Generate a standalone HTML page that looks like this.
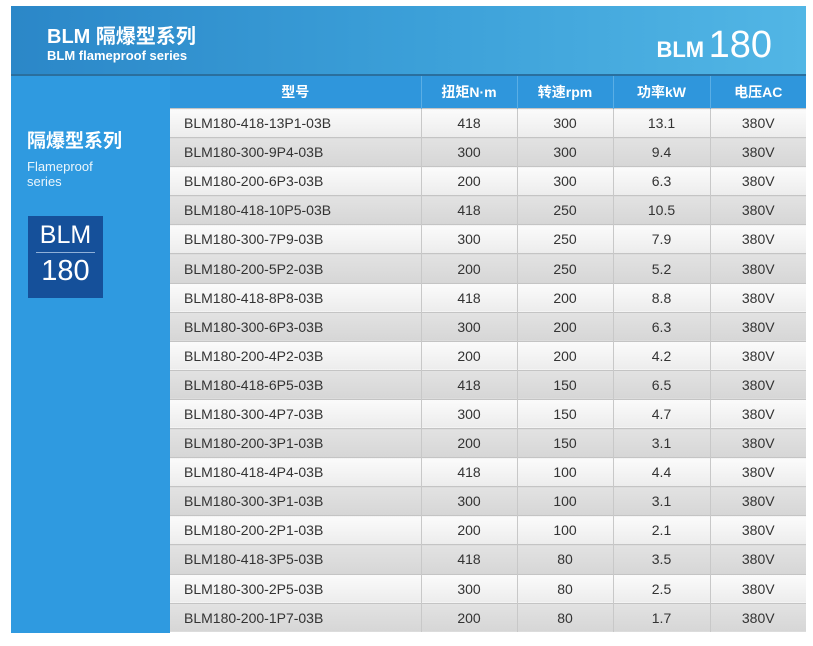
<!DOCTYPE html>
<html><head><meta charset="utf-8"><style>
body{margin:0;width:813px;height:646px;background:#fff;position:relative;font-family:"Liberation Sans","Noto Sans CJK SC",sans-serif;overflow:hidden}
#hdr{position:absolute;left:11px;top:6px;width:795px;height:68px;background:linear-gradient(90deg,#2b87c8,#3b9fd8 50%,#52b6e5);border-bottom:2px solid #2a6f9e}
#left{position:absolute;left:11px;top:76px;width:159px;height:557px;background:#2f9ae0}
#tbl{position:absolute;left:170px;top:76px;width:636px;border-collapse:collapse;table-layout:fixed}
#tbl th{height:32px;background:#2f96dc;color:#fff;font-weight:bold;font-size:14px;border-left:1px solid #5aaee5;padding:0}
#tbl td{height:28.1px;padding:0;text-align:center;font-size:14px;color:#333;border-left:1px solid #c8c8c8;border-top:1px solid #c4c4c4}
#tbl td:first-child{text-align:left;padding-left:14px;border-left:none}
#tbl tr.o td{background:linear-gradient(180deg,#fbfbfb,#ececec)}
#tbl tr.e td{background:linear-gradient(180deg,#e2e2e2,#d6d6d6)}
</style></head><body>
<div id="hdr">
<div style="position:absolute;left:36px;top:14px;color:#fff;font-size:20px;font-weight:bold">BLM 隔爆型系列</div>
<div style="position:absolute;left:36px;top:42px;color:#fff;font-size:13px;font-weight:bold">BLM flameproof series</div>
<div style="position:absolute;right:34px;top:18px;color:#fff;white-space:nowrap"><span style="font-size:22px;font-weight:bold">BLM</span> <span style="font-size:38px">180</span></div>
</div>
<div id="left">
<div style="position:absolute;left:16px;top:50px;color:#fff;font-size:19px;font-weight:bold">隔爆型系列</div>
<div style="position:absolute;left:16px;top:83px;color:#fff;font-size:13px;line-height:15px;opacity:.9">Flameproof<br>series</div>
<div style="position:absolute;left:17px;top:140px;width:75px;width:75px;height:82px;background:#15509a;color:#fff;text-align:center">
<div style="font-size:25px;padding-top:5px">BLM</div>
<div style="height:1px;background:#8fb0d8;margin:2px 8px"></div>
<div style="font-size:29px">180</div></div>
</div>
<table id="tbl">
<colgroup><col style="width:251px"><col style="width:96px"><col style="width:96px"><col style="width:97px"><col style="width:96px"></colgroup>
<thead><tr><th style="border-left:none">型号</th><th>扭矩N·m</th><th>转速rpm</th><th>功率kW</th><th>电压AC</th></tr></thead>
<tbody id="tb"></tbody></table>
<script>
const models=["BLM180-418-13P1-03B","BLM180-300-9P4-03B","BLM180-200-6P3-03B","BLM180-418-10P5-03B","BLM180-300-7P9-03B","BLM180-200-5P2-03B","BLM180-418-8P8-03B","BLM180-300-6P3-03B","BLM180-200-4P2-03B","BLM180-418-6P5-03B","BLM180-300-4P7-03B","BLM180-200-3P1-03B","BLM180-418-4P4-03B","BLM180-300-3P1-03B","BLM180-200-2P1-03B","BLM180-418-3P5-03B","BLM180-300-2P5-03B","BLM180-200-1P7-03B"];
const torque=[418,300,200,418,300,200,418,300,200,418,300,200,418,300,200,418,300,200];
const speed=[300,300,300,250,250,250,200,200,200,150,150,150,100,100,100,80,80,80];
const power=["13.1","9.4","6.3","10.5","7.9","5.2","8.8","6.3","4.2","6.5","4.7","3.1","4.4","3.1","2.1","3.5","2.5","1.7"];
const voltage="380V";
const tb=document.getElementById('tb');
models.forEach((m,i)=>{
const tr=document.createElement('tr');
tr.className=i%2?'e':'o';


[m,torque[i],speed[i],power[i],voltage].forEach(v=>{
const td=document.createElement('td');
td.textContent=v;


tr.appendChild(td);});
tb.appendChild(tr);});
</script>
</body></html>
